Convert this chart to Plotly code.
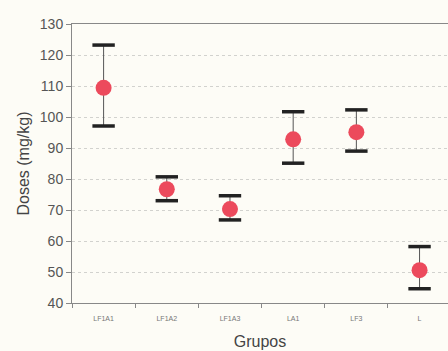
import plotly.graph_objects as go

# Dose per group: mean with upper / lower limits (mg/kg)
grupos = ["LF1A1", "LF1A2", "LF1A3", "LA1", "LF3", "L"]
media = [109.4, 76.7, 70.3, 92.8, 95.1, 50.6]
superior = [123.2, 80.7, 74.6, 101.7, 102.3, 58.2]
inferior = [97.1, 73.0, 66.8, 85.1, 89.0, 44.6]

y_ticks = [40, 50, 60, 70, 80, 90, 100, 110, 120, 130]

err_up = [s - m for s, m in zip(superior, media)]
err_down = [m - i for m, i in zip(media, inferior)]

fig = go.Figure()

# thin vertical whisker
fig.add_trace(go.Scatter(
    x=grupos, y=media, mode="markers",
    marker=dict(size=1, color="rgba(0,0,0,0)"),
    error_y=dict(type="data", symmetric=False, array=err_up, arrayminus=err_down,
                 color="#555555", thickness=1, width=0),
    showlegend=False, hoverinfo="skip",
))

# thick caps at the limits
fig.add_trace(go.Scatter(
    x=grupos + grupos, y=superior + inferior, mode="markers",
    marker=dict(symbol="line-ew-open", size=16, color="#222222",
                line=dict(color="#222222", width=3.5)),
    showlegend=False, hoverinfo="skip",
))

# mean points
fig.add_trace(go.Scatter(
    x=grupos, y=media, mode="markers",
    marker=dict(size=16, color="#ec4a5c", line=dict(width=0)),
    showlegend=False,
))

fig.update_layout(
    width=448, height=351,
    margin=dict(l=72, r=0, t=24, b=48),
    paper_bgcolor="#fdfcf6", plot_bgcolor="#fdfcf6",
    font=dict(family="Liberation Sans, Arial, sans-serif", color="#555555"),
    xaxis=dict(
        type="category", range=[-0.5, 5.45],
        tickson="boundaries", ticks="outside", ticklen=4, tickcolor="#888888",
        showline=True, linecolor="#888888", linewidth=1, mirror=True,
        showgrid=False, zeroline=False,
        tickfont=dict(size=7, color="#777777"),
        ticklabelstandoff=9,
        title=dict(text="Grupos", font=dict(size=16, color="#444444"), standoff=14),
    ),
    yaxis=dict(
        range=[40, 130], tickvals=y_ticks,
        ticks="outside", ticklen=5, tickcolor="#888888",
        showline=True, linecolor="#888888", linewidth=1,
        showgrid=True, gridcolor="#d2d2ce", griddash="dot", gridwidth=1,
        zeroline=False,
        tickfont=dict(size=14, color="#555555"),
        title=dict(text="Doses (mg/kg)", font=dict(size=16, color="#444444"), standoff=6),
    ),
)

fig.write_html("out.html")
